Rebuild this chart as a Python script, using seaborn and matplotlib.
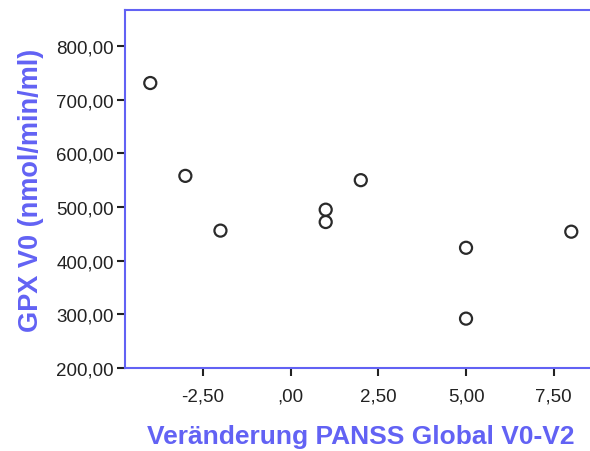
import matplotlib
matplotlib.use("Agg")
import matplotlib.pyplot as plt
import seaborn as sns
import pandas as pd
from matplotlib.ticker import FuncFormatter

# Values
panss_change = [-4, -3, -2, 1, 1, 2, 5, 5, 8]
gpx_v0 = [731, 558, 456, 495, 472, 550, 424, 292, 454]

x_ticks = [-2.5, 0, 2.5, 5, 7.5]
y_ticks = [200, 300, 400, 500, 600, 700, 800]

data = pd.DataFrame({'PANSS': panss_change, 'GPX': gpx_v0})

sns.set_style('white')
plt.rcParams['font.family'] = ['Liberation Sans', 'DejaVu Sans']

blue = '#6262f4'

fig = plt.figure(figsize=(5.9, 4.52), dpi=100)
ax = fig.add_axes([0.2119, 0.1836, 0.798, 0.792])

sns.scatterplot(x='PANSS', y='GPX', data=data, ax=ax, marker='o', s=75,
                facecolor='none', edgecolor='#2a2a2a', linewidth=1.6)


def comma_fmt(v, pos):
    s = '%.2f' % v
    s = s.replace('.', ',')
    if s.startswith('0,'):
        s = s[1:]
    if s.startswith('-0,'):
        s = '-' + s[2:]
    return s


ax.set_xlim(-4.72, 8.7)
ax.set_ylim(200, 867)
ax.set_xticks(x_ticks)
ax.set_yticks(y_ticks)
ax.xaxis.set_major_formatter(FuncFormatter(comma_fmt))
ax.yaxis.set_major_formatter(FuncFormatter(comma_fmt))

for side in ['left', 'bottom', 'top', 'right']:
    ax.spines[side].set_color(blue)
    ax.spines[side].set_linewidth(1.5)

ax.tick_params(axis='both', which='major', direction='out', length=6, width=1.5,
               color='#222222', labelsize=13.5, labelcolor='#222222',
               left=True, bottom=True, pad=2)
ax.tick_params(axis='x', pad=8)

ax.set_xlabel('Veränderung PANSS Global V0-V2', fontsize=19, fontweight='bold',
              color=blue, labelpad=14)
ax.set_ylabel('GPX V0 (nmol/min/ml)', fontsize=19.5, fontweight='bold',
              color=blue, labelpad=9)

fig.savefig('out.png', dpi=100)
